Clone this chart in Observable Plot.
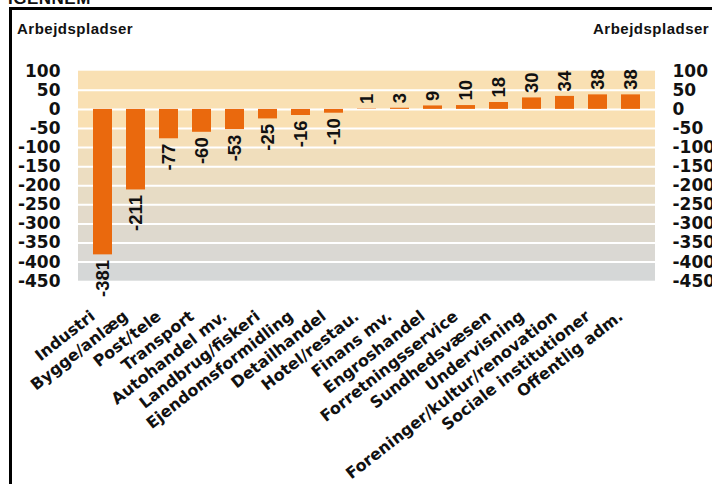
<!DOCTYPE html>
<html>
<head>
<meta charset="utf-8">
<script src="https://cdn.jsdelivr.net/npm/d3@7"></script>
<script src="https://cdn.jsdelivr.net/npm/@observablehq/plot@0.6"></script>
<style>
  html, body { margin: 0; padding: 0; background: #fff; }
  #wrap { position: relative; width: 712px; height: 484px; overflow: hidden; background: #fff; }
  #frame { position: absolute; left: 9px; top: 7px; width: 800px; height: 600px; border: 3px solid #000; box-sizing: border-box; }
  .ttl { position: absolute; font-family: "Liberation Sans", Arial, sans-serif; font-weight: bold; font-size: 15px; letter-spacing: 0.5px; color: #111; white-space: nowrap; line-height: 1; }
  #chart { position: absolute; left: 0; top: 0; }
</style>
</head>
<body>
<div id="wrap">
  <div class="ttl" id="head" style="left:8px; top:-10px; font-size:17px;">IGENNEM</div>
  <div id="frame"></div>
  <div class="ttl" style="left:17px; top:21px;">Arbejdspladser</div>
  <div class="ttl" style="left:593px; top:21px;">Arbejdspladser</div>
  <div id="chart"></div>
</div>
<script>
const categories = ["Industri", "Bygge/anlæg", "Post/tele", "Transport", "Autohandel mv.", "Landbrug/fiskeri", "Ejendomsformidling", "Detailhandel", "Hotel/restau.", "Finans mv.", "Engroshandel", "Forretningsservice", "Sundhedsvæsen", "Undervisning", "Foreninger/kultur/renovation", "Sociale institutioner", "Offentlig adm."];
const values = [-381, -211, -77, -60, -53, -25, -16, -10, 1, 3, 9, 10, 18, 30, 34, 38, 38];
const yTicks = [100, 50, 0, -50, -100, -150, -200, -250, -300, -350, -400, -450];

const data = categories.map((c, i) => ({cat: c, value: values[i]}));
const bands = d3.pairs(yTicks).map(([a, b], i) => ({top: a, bottom: b, i}));
const gridVals = yTicks.slice(1, -1);
const nb = bands.length;
const bandColor = d3.interpolateRgb("#f9e0b3", "#d5d7d7");
const bandFill = d => bandColor(Math.max(0, (d.i - 2) / (nb - 3)));

const tickFont = "DejaVu Sans, sans-serif";
const valFont = "Liberation Sans, Arial, sans-serif";

const plot = Plot.plot({
  width: 712,
  height: 484,
  marginLeft: 78,
  marginRight: 57,
  marginTop: 70.7,
  marginBottom: 203.3,
  style: {background: "transparent", overflow: "visible", color: "#111"},
  x: {type: "band", domain: categories, paddingInner: 0.41, paddingOuter: 0.205, axis: null},
  y: {domain: [d3.min(yTicks), d3.max(yTicks)], axis: null},
  marks: [
    Plot.rect(bands, {y1: "top", y2: "bottom", fill: bandFill}),
    Plot.ruleY(gridVals, {stroke: "white", strokeWidth: 2}),
    Plot.barY(data, {x: "cat", y: "value", fill: "#ea690d"}),
    Plot.text(data.filter(d => d.value < 0), {x: "cat", y: "value", text: d => String(d.value), rotate: -90, textAnchor: "end", lineAnchor: "middle", dy: 5, fontSize: 18.5, fontWeight: "bold", fontFamily: valFont, fill: "#111"}),
    Plot.text(data.filter(d => d.value >= 0), {x: "cat", y: "value", text: d => String(d.value), rotate: -90, textAnchor: "start", lineAnchor: "middle", dy: -5, fontSize: 18.5, fontWeight: "bold", fontFamily: valFont, fill: "#111"}),
    Plot.text(categories, {x: d => d, frameAnchor: "bottom", text: d => d, rotate: -38, textAnchor: "end", lineAnchor: "middle", dx: -10, dy: 33, fontSize: 16, fontWeight: "bold", fontFamily: tickFont, fill: "#111"}),
    Plot.axisY(yTicks, {anchor: "left", tickSize: 0, tickPadding: 18, label: null, fontSize: 17, fontWeight: "bold", fontFamily: tickFont, tickFormat: d => String(d)}),
    Plot.axisY(yTicks, {anchor: "right", tickSize: 0, tickPadding: 17, label: null, fontSize: 17, fontWeight: "bold", fontFamily: tickFont, tickFormat: d => String(d)})
  ]
});
document.getElementById("chart").appendChild(plot);
</script>
</body>
</html>
